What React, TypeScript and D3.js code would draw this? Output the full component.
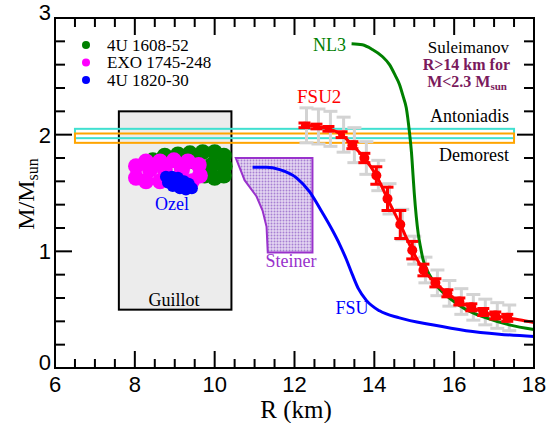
import React from 'react';
import * as d3 from 'd3';

const W = 548;
const H = 423;

const xDomain = [6, 18];
const yDomain = [0, 3];
const xTickValues = [6, 8, 10, 12, 14, 16, 18];
const yTickValues = [0, 1, 2, 3];

// FSU2 points with error bars
const fsu2R = [12.25, 12.55, 12.85, 13.18, 13.45, 13.75, 14.05, 14.33, 14.65, 14.95, 15.23, 15.53, 15.83, 16.13, 16.43, 16.73, 17.03, 17.33];
const fsu2M = [2.08, 2.07, 2.05, 2.0, 1.91, 1.8, 1.65, 1.45, 1.23, 1.01, 0.84, 0.73, 0.64, 0.57, 0.52, 0.48, 0.45, 0.43];
const fsu2Err = [0.02, 0.02, 0.02, 0.025, 0.03, 0.04, 0.075, 0.1, 0.12, 0.075, 0.05, 0.035, 0.03, 0.03, 0.03, 0.03, 0.03, 0.03];
const fsu2GrayErr = [0.15, 0.15, 0.15, 0.15, 0.15, 0.14, 0.13, 0.13, 0.13, 0.12, 0.11, 0.11, 0.11, 0.11, 0.11, 0.11, 0.11, 0.11];
const fsu2TailR = [17.7, 18.0];
const fsu2TailM = [0.41, 0.39];

// NL3 curve
const nl3R = [13.43, 13.7, 13.95, 14.2, 14.38, 14.52, 14.63, 14.72, 14.8, 14.88, 14.93, 14.97, 15.0, 15.05, 15.1, 15.16, 15.22, 15.32, 15.45, 15.65, 15.88, 16.3, 16.8, 17.38, 18.0];
const nl3M = [2.78, 2.77, 2.73, 2.67, 2.6, 2.51, 2.43, 2.33, 2.23, 2.02, 1.85, 1.65, 1.5, 1.3, 1.15, 1.03, 0.93, 0.84, 0.76, 0.67, 0.6, 0.5, 0.43, 0.37, 0.33];

// FSU curve
const fsuR = [10.95, 11.3, 11.63, 12.05, 12.38, 12.7, 12.95, 13.13, 13.3, 13.45, 13.6, 13.8, 14.13, 14.63, 15.45, 16.3, 17.13, 18.0];
const fsuM = [1.72, 1.72, 1.7, 1.63, 1.51, 1.33, 1.18, 1.06, 0.93, 0.8, 0.68, 0.58, 0.49, 0.43, 0.37, 0.32, 0.29, 0.27];

// Steiner region
const steinerR = [10.53, 12.45, 12.45, 11.33, 11.3, 11.2, 11.05, 10.75];
const steinerM = [1.8, 1.8, 0.99, 0.99, 1.21, 1.35, 1.47, 1.61];

// Guillot box
const guillotR = [7.6, 10.42];
const guillotM = [0.5, 2.2];

// Mass measurement bands
const bandR = [6.5, 17.5];
const antoniadisM = [1.97, 2.05];
const demorestM = [1.93, 2.01];

// Ozel samples
const ozel1608R = [8.45, 8.75, 9.08, 9.38, 9.7, 10.0, 10.23, 10.25, 10.23, 10.0, 9.75, 9.93, 9.5, 9.13, 8.75];
const ozel1608M = [1.78, 1.82, 1.83, 1.84, 1.85, 1.85, 1.82, 1.73, 1.65, 1.63, 1.65, 1.74, 1.77, 1.76, 1.76];
const ozelExoR = [8.03, 8.03, 8.28, 8.63, 8.98, 9.33, 9.6, 9.63, 9.43, 9.03, 8.63, 8.28, 8.38, 8.75, 9.18];
const ozelExoM = [1.73, 1.63, 1.77, 1.77, 1.78, 1.77, 1.74, 1.65, 1.6, 1.6, 1.6, 1.6, 1.7, 1.7, 1.7];
const ozel1820R = [8.78, 8.93, 9.08, 9.23, 9.35, 9.43, 9.28, 9.13, 8.95, 8.83, 9.08, 9.25];
const ozel1820M = [1.64, 1.64, 1.63, 1.6, 1.58, 1.54, 1.53, 1.54, 1.56, 1.59, 1.59, 1.57];

const legendLabels = ['4U 1608-52', 'EXO 1745-248', '4U 1820-30'];
const legendColors = ['#008000', '#ff00ff', '#0000ff'];

const SERIF = "'Liberation Serif', 'Times New Roman', serif";
const SANS = "'Liberation Sans', Arial, sans-serif";

export default function App() {
  const x = d3.scaleLinear().domain(xDomain).range([55, 534]);
  const y = d3.scaleLinear().domain(yDomain).range([368, 18]);
  const line = d3
    .line<[number, number]>()
    .x((d) => x(d[0]))
    .y((d) => y(d[1]))
    .curve(d3.curveMonotoneX);
  const poly = d3
    .line<[number, number]>()
    .x((d) => x(d[0]))
    .y((d) => y(d[1]))
    .curve(d3.curveLinearClosed);

  const zip = (a: number[], b: number[]) => a.map((v, i) => [v, b[i]] as [number, number]);
  const xMinor = d3.range(xDomain[0], xDomain[1] + 0.001, 0.5);
  const yMinor = d3.range(yDomain[0], yDomain[1] + 0.001, 0.2);
  const isInt = (v: number, step: number) => Math.abs(v / step - Math.round(v / step)) < 1e-6;

  const [x0, x1] = x.range();
  const [yb, yt] = y.range();

  const fsu2Line = zip(fsu2R.concat(fsu2TailR), fsu2M.concat(fsu2TailM));

  return (
    <svg width={W} height={H} style={{ position: 'absolute', left: 0, top: 0, background: '#fff' }}>
      <defs>
        <pattern id="stip" width={3} height={3} patternUnits="userSpaceOnUse">
          <rect width={3} height={3} fill="#e4d6f2" />
          <circle cx={1.5} cy={1.5} r={0.95} fill="#a77fd2" />
        </pattern>
      </defs>
      {/* Guillot */}
      <rect
        x={x(guillotR[0])}
        y={y(guillotM[1])}
        width={x(guillotR[1]) - x(guillotR[0])}
        height={y(guillotM[0]) - y(guillotM[1])}
        fill="#ececec"
        stroke="#000"
        strokeWidth={2}
      />
      {/* Bands */}
      <rect
        x={x(bandR[0])}
        y={y(antoniadisM[1])}
        width={x(bandR[1]) - x(bandR[0])}
        height={y(antoniadisM[0]) - y(antoniadisM[1])}
        fill="none"
        stroke="#40e0d0"
        strokeWidth={2}
      />
      <rect
        x={x(bandR[0])}
        y={y(demorestM[1])}
        width={x(bandR[1]) - x(bandR[0])}
        height={y(demorestM[0]) - y(demorestM[1])}
        fill="none"
        stroke="#ffa500"
        strokeWidth={2}
      />
      {/* Ozel blobs */}
      {ozel1608R.map((r, i) => (
        <circle key={'g' + i} cx={x(r)} cy={y(ozel1608M[i])} r={8} fill="#008000" />
      ))}
      {ozelExoR.map((r, i) => (
        <circle key={'m' + i} cx={x(r)} cy={y(ozelExoM[i])} r={8} fill="#ff00ff" />
      ))}
      {ozel1820R.map((r, i) => (
        <circle key={'b' + i} cx={x(r)} cy={y(ozel1820M[i])} r={6} fill="#0000ff" />
      ))}
      {/* Steiner */}
      <path d={poly(zip(steinerR, steinerM)) || ''} fill="url(#stip)" stroke="#9932cc" strokeWidth={2} />
      {/* Gray error bars */}
      {fsu2R.map((r, i) => {
        const cx = x(r) + 2;
        const t = y(fsu2M[i] + fsu2GrayErr[i]);
        const b = y(fsu2M[i] - fsu2GrayErr[i]);
        return (
          <g key={'ge' + i} stroke="#d3d3d3" strokeWidth={3}>
            <line x1={cx} x2={cx} y1={t} y2={b} />
            <line x1={cx - 7} x2={cx + 7} y1={t} y2={t} />
            <line x1={cx - 7} x2={cx + 7} y1={b} y2={b} />
          </g>
        );
      })}
      {/* Curves */}
      <path d={line(zip(fsuR, fsuM)) || ''} fill="none" stroke="#0000ff" strokeWidth={3} />
      <path d={line(zip(nl3R, nl3M)) || ''} fill="none" stroke="#008000" strokeWidth={3} />
      <path d={line(fsu2Line) || ''} fill="none" stroke="#ff0000" strokeWidth={3} />
      {/* Red error bars + points */}
      {fsu2R.map((r, i) => {
        const cx = x(r);
        const t = y(fsu2M[i] + fsu2Err[i]);
        const b = y(fsu2M[i] - fsu2Err[i]);
        return (
          <g key={'re' + i} stroke="#ff0000" strokeWidth={3}>
            <line x1={cx} x2={cx} y1={t} y2={b} />
            <line x1={cx - 6} x2={cx + 6} y1={t} y2={t} />
            <line x1={cx - 6} x2={cx + 6} y1={b} y2={b} />
          </g>
        );
      })}
      {fsu2R.map((r, i) => (
        <circle key={'rp' + i} cx={x(r)} cy={y(fsu2M[i])} r={i < 4 ? 3.5 : 5} fill="#ff0000" />
      ))}

      {/* Frame and ticks */}
      <rect x={x0} y={yt} width={x1 - x0} height={yb - yt} fill="none" stroke="#000" strokeWidth={2} />
      {xMinor.map((v, i) => {
        const len = isInt(v, 2) ? 17 : 9;
        return (
          <g key={'xt' + i} stroke="#000" strokeWidth={2}>
            <line x1={x(v)} x2={x(v)} y1={yb} y2={yb - len} />
            <line x1={x(v)} x2={x(v)} y1={yt} y2={yt + len} />
          </g>
        );
      })}
      {yMinor.map((v, i) => {
        const len = isInt(v, 1) ? 17 : 10;
        return (
          <g key={'yt' + i} stroke="#000" strokeWidth={2}>
            <line x1={x0} x2={x0 + len} y1={y(v)} y2={y(v)} />
            <line x1={x1} x2={x1 - len} y1={y(v)} y2={y(v)} />
          </g>
        );
      })}
      {xTickValues.map((v) => (
        <text key={'xl' + v} x={x(v)} y={yb + 24} textAnchor="middle" fontFamily={SANS} fontSize={22} fill="#000">
          {v}
        </text>
      ))}
      {yTickValues.map((v) => (
        <text
          key={'yl' + v}
          x={x0 - 4}
          y={y(v) + (v === 0 || v === 3 ? 2 : 8)}
          textAnchor="end"
          fontFamily={SANS}
          fontSize={22}
          fill="#000"
        >
          {v}
        </text>
      ))}
      {/* Axis titles */}
      <text x={296} y={418} textAnchor="middle" fontFamily={SERIF} fontSize={25} fill="#000">
        R (km)
      </text>
      <text transform="translate(34,194) rotate(-90)" textAnchor="middle" fontFamily={SERIF} fontSize={24} fill="#000">
        M/M<tspan fontSize={16} dy={4}>sun</tspan>
      </text>

      {/* Legend */}
      {legendLabels.map((l, i) => (
        <g key={'lg' + i}>
          <circle cx={86} cy={45 + i * 17.5} r={4} fill={legendColors[i]} />
          <text x={107} y={50.5 + i * 17.5} fontFamily={SERIF} fontSize={17} fill="#000">
            {l}
          </text>
        </g>
      ))}

      {/* Annotations */}
      <text x={174} y={306} textAnchor="middle" fontFamily={SERIF} fontSize={18} fill="#000">Guillot</text>
      <text x={172} y={210} textAnchor="middle" fontFamily={SERIF} fontSize={18} fill="#0000ff">Ozel</text>
      <text x={291} y={267} textAnchor="middle" fontFamily={SERIF} fontSize={18} fill="#9932cc">Steiner</text>
      <text x={352} y={314} textAnchor="middle" fontFamily={SERIF} fontSize={18} fill="#0000ff">FSU</text>
      <text x={313} y={51} fontFamily={SERIF} fontSize={18} fill="#008000">NL3</text>
      <text x={297} y={103} fontFamily={SERIF} fontSize={19} fill="#ff0000">FSU2</text>
      <text x={509} y={53} textAnchor="end" fontFamily={SERIF} fontSize={17} fill="#000">Suleimanov</text>
      <text x={510} y={70} textAnchor="end" fontFamily={SERIF} fontSize={16} fontWeight="bold" fill="#7a1a5c">
        R&gt;14 km for
      </text>
      <text x={507} y={87} textAnchor="end" fontFamily={SERIF} fontSize={16} fontWeight="bold" fill="#7a1a5c">
        M&lt;2.3 M<tspan fontSize={11} dy={3}>sun</tspan>
      </text>
      <text x={509} y={122} textAnchor="end" fontFamily={SERIF} fontSize={18} fill="#000">Antoniadis</text>
      <text x={509} y={161} textAnchor="end" fontFamily={SERIF} fontSize={18} fill="#000">Demorest</text>
    </svg>
  );
}
